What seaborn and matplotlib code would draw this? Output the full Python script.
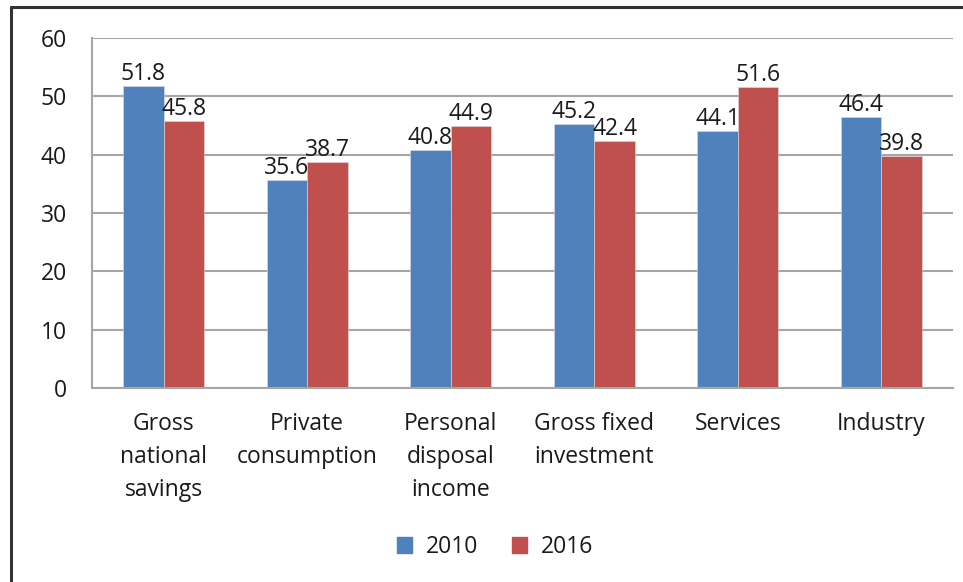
import matplotlib
matplotlib.use("Agg")
import matplotlib.pyplot as plt
import seaborn as sns
import numpy as np
import pandas as pd
from matplotlib.lines import Line2D

categories = ["Gross\nnational\nsavings", "Private\nconsumption", "Personal\ndisposal\nincome",
              "Gross fixed\ninvestment", "Services", "Industry"]
values_2010 = [51.8, 35.6, 40.8, 45.2, 44.1, 46.4]
values_2016 = [45.8, 38.7, 44.9, 42.4, 51.6, 39.8]
years = ["2010", "2016"]
colors = ["#4F81BD", "#C0504D"]

df = pd.DataFrame({
    "category": categories * 2,
    "value": values_2010 + values_2016,
    "year": [years[0]] * len(categories) + [years[1]] * len(categories),
})

sns.set_style("white")
plt.rcParams['font.family'] = ['Open Sans', 'DejaVu Sans']
fs = 16.5
text_color = "#1a1a1a"
grid_color = "#a6a6a6"

fig = plt.figure(figsize=(9.63, 5.82), dpi=100)
ax = fig.add_axes([92 / 963, 194 / 582, (953 - 92) / 963, (544 - 194) / 582])

sns.barplot(data=df, x="category", y="value", hue="year", palette=colors,
            width=0.565, saturation=1, ax=ax, legend=False, linewidth=0.4, edgecolor="#dddddd")

ax.set_ylim(0, 60)
ax.set_xlim(-0.5, len(categories) - 0.5)
ax.set_yticks(np.arange(0, 61, 10))
ax.yaxis.grid(True, color=grid_color, linewidth=1.5)
ax.set_axisbelow(True)
ax.set_xlabel("")
ax.set_ylabel("")

for side in ["top", "right"]:
    ax.spines[side].set_visible(False)
for side in ["left", "bottom"]:
    ax.spines[side].set_color(grid_color)
    ax.spines[side].set_linewidth(1.5)

# boundary ticks on x, labels at the category centres
ax.set_xticks(np.arange(-0.5, len(categories), 1))
ax.set_xticklabels([])
ax.set_xticks(np.arange(len(categories)), minor=True)
ax.set_xticklabels(categories, minor=True, linespacing=1.5, va="top")
ax.tick_params(axis="x", which="major", length=8, width=1.5, color=grid_color, direction="out")
ax.tick_params(axis="x", which="minor", length=0, pad=17, labelcolor=text_color, labelsize=fs)
ax.tick_params(axis="y", length=8, width=1.5, color=grid_color, direction="out",
               labelcolor=text_color, labelsize=fs, pad=10)

for cont in ax.containers:
    ax.bar_label(cont, fmt="%.1f", padding=0, fontsize=fs, color=text_color)

handles = [plt.Rectangle((0, 0), 1, 1, color=c) for c in colors]
fig.legend(handles, years, loc="center", bbox_to_anchor=(495 / 963, 35 / 582), ncol=2,
           frameon=False, fontsize=fs, handlelength=0.65, handleheight=0.65,
           columnspacing=1.5, handletextpad=0.6, labelcolor=text_color)

# outer chart frame (left and top edges)
fig.add_artist(Line2D([11 / 963, 11 / 963], [0, 1 - 7 / 582], transform=fig.transFigure,
                      color="#333333", linewidth=2.2))
fig.add_artist(Line2D([11 / 963, 1], [1 - 7 / 582, 1 - 7 / 582], transform=fig.transFigure,
                      color="#333333", linewidth=2.2))

fig.savefig("out.png", dpi=100)
